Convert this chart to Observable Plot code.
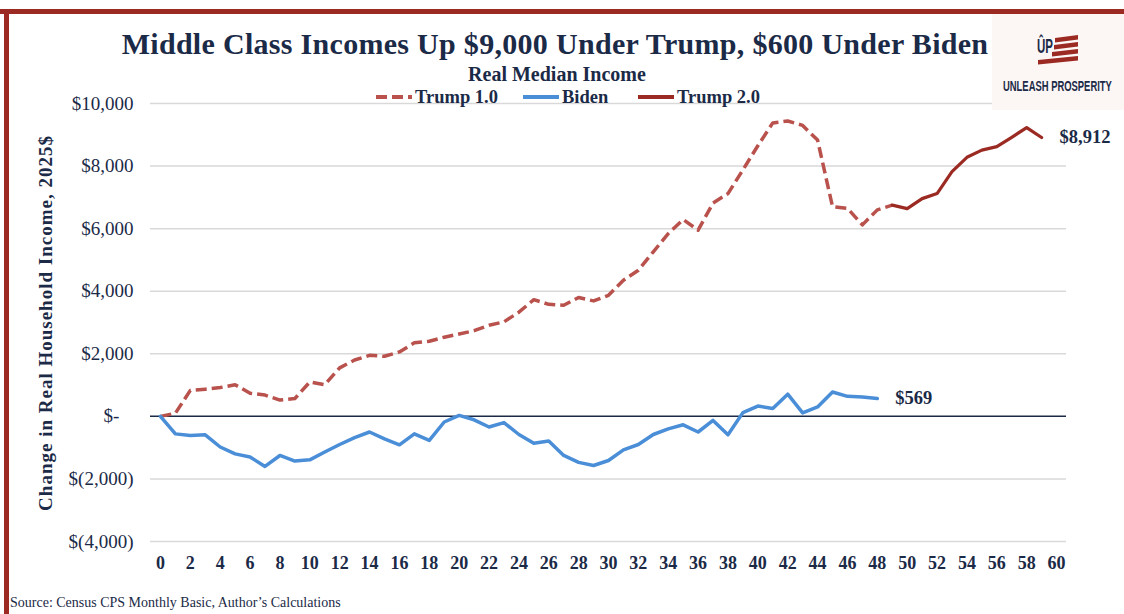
<!DOCTYPE html>
<html><head><meta charset="utf-8">
<script src="https://cdn.jsdelivr.net/npm/d3@7"></script>
<script src="https://cdn.jsdelivr.net/npm/@observablehq/plot@0.6"></script>
<style>
body{margin:0;background:#fff;}
#wrap{position:relative;width:1124px;height:614px;overflow:hidden;font-family:"Liberation Serif",serif;color:#1b2a47;background:#fff;}
#chart{position:absolute;left:0;top:0;}
.ov{position:absolute;white-space:nowrap;}
#barTop{position:absolute;left:0;top:9px;width:1124px;height:5px;background:#9b2a22;}
#barLeft{position:absolute;left:4px;top:9px;width:5px;height:605px;background:#9b2a22;}
#title{left:0;width:1110px;top:26px;text-align:center;font-size:30px;letter-spacing:0.3px;line-height:36px;font-weight:bold;}
#subtitle{left:0;width:1114px;top:63px;text-align:center;font-size:20px;line-height:22px;font-weight:bold;}
.leg{position:absolute;top:87px;height:20px;font-size:18.5px;line-height:20px;font-weight:bold;display:flex;align-items:center;}
.leg svg{margin-right:3px;}
#ylabel{left:46px;top:323px;transform:translate(-50%,-50%) rotate(-90deg);font-size:19px;letter-spacing:1px;font-weight:bold;line-height:20px;}
#source{left:10px;top:594px;font-size:14px;line-height:17px;}
#logo{position:absolute;left:992px;top:14px;width:132px;height:96px;background:#fcf6f5;}
</style></head><body>
<div id="wrap">
  <div id="chart"></div>
  <div id="barTop"></div><div id="barLeft"></div>
  <div id="logo">
    <svg width="132" height="96">
      <g id="upMark" transform="translate(45,39)"><text font-family="Liberation Sans Narrow, Liberation Sans, sans-serif" font-weight="bold" font-size="20" fill="#1b2a47">ÛP</text></g>
      <polygon points="63,24 86,21 86,25.5 63,28.5" fill="#9b2a22"/>
      <polygon points="62,31 86,28 86,32.5 62,35.5" fill="#9b2a22"/>
      <polygon points="60,38 86,35 86,39.5 60,42.5" fill="#9b2a22"/>
      <polygon points="46,46 86,42 86,46.5 46,50.5" fill="#9b2a22"/>
      <g id="upName" transform="translate(11,77)"><text font-family="Liberation Sans Narrow, Liberation Sans, sans-serif" font-weight="bold" font-size="15.5" fill="#1b2a47">UNLEASH PROSPERITY</text></g>
    </svg>
  </div>
  <div class="ov" id="title">Middle Class Incomes Up $9,000 Under Trump, $600 Under Biden</div>
  <div class="ov" id="subtitle">Real Median Income</div>
  <div id="legend"></div>
  <div class="ov" id="ylabel">Change in Real Household Income, 2025$</div>
  <div class="ov" id="source">Source: Census CPS Monthly Basic, Author’s Calculations</div>
</div>
<script>
// ---- data ----
const seriesNames = ["Trump 1.0", "Biden", "Trump 2.0"];
const seriesColors = ["#b9524c", "#4a8ed8", "#9b2a22"];

const trump1Start = 0;
const trump1Values = [0, 100, 830, 870, 920, 1010, 740, 680, 520, 570,
  1100, 1010, 1550, 1800, 1950, 1920, 2060, 2350, 2400, 2530,
  2630, 2740, 2910, 3020, 3330, 3730, 3580, 3550, 3800, 3690,
  3870, 4350, 4670, 5260, 5840, 6290, 5950, 6820, 7120, 7880,
  8650, 9380, 9440, 9300, 8830, 6700, 6650, 6120, 6600, 6750];

const bidenStart = 0;
const bidenValues = [0, -560, -610, -590, -980, -1200, -1300, -1600, -1250, -1430,
  -1390, -1140, -900, -680, -500, -720, -910, -560, -770, -180,
  30, -110, -340, -200, -580, -860, -790, -1250, -1470, -1570,
  -1410, -1070, -900, -580, -400, -270, -500, -130, -590, 120,
  330, 250, 710, 110, 300, 780, 640, 620, 569];

const trump2Start = 49;
const trump2Values = [6750, 6640, 6960, 7120, 7820, 8280, 8510, 8620, 8920, 9230, 8912];

const xTicks = [0,2,4,6,8,10,12,14,16,18,20,22,24,26,28,30,32,34,36,38,40,42,44,46,48,50,52,54,56,58,60];
const yTicks = [-4000,-2000,0,2000,4000,6000,8000,10000];

// ---- build tables ----
const toRows = (vals, start, series) => vals.map((v, i) => ({month: start + i, value: v, series}));
const trump1 = toRows(trump1Values, trump1Start, seriesNames[0]);
const biden = toRows(bidenValues, bidenStart, seriesNames[1]);
const trump2 = toRows(trump2Values, trump2Start, seriesNames[2]);
const endLabels = [biden[biden.length - 1], trump2[trump2.length - 1]];

const money = v => {
  const s = d3.format(",")(Math.abs(v));
  return v < 0 ? `$(${s})` : `$${s}`;
};
const axisMoney = v => v === 0 ? "$-\u00a0\u00a0\u00a0" : money(v);

const navy = "#1b2a47";

const chart = Plot.plot({
  width: 1124,
  height: 614,
  marginLeft: 150,
  marginRight: 58,
  marginTop: 103,
  marginBottom: 73,
  style: {background: "transparent", fontFamily: "Liberation Serif, serif", color: navy, overflow: "visible"},
  x: {domain: [-2/3, 60 + 2/3]},
  y: {domain: [-4000, 10000]},
  marks: [
    Plot.ruleY(yTicks.filter(d => d !== 0), {stroke: "#d9d9d9", strokeWidth: 1.5}),
    Plot.ruleY([0], {stroke: navy, strokeWidth: 1.5}),
    Plot.axisY({ticks: yTicks, tickSize: 0, tickPadding: 17, tickFormat: axisMoney, fontSize: 19, label: null, fill: navy}),
    Plot.axisX({ticks: xTicks, tickSize: 0, tickPadding: 15, tickFormat: d => String(d), fontSize: 18, fontWeight: "bold", label: null, fill: navy}),
    Plot.line(trump1, {x: "month", y: "value", stroke: seriesColors[0], strokeWidth: 3.5, strokeDasharray: "11,5", strokeLinecap: "butt"}),
    Plot.line(biden, {x: "month", y: "value", stroke: seriesColors[1], strokeWidth: 3.5}),
    Plot.line(trump2, {x: "month", y: "value", stroke: seriesColors[2], strokeWidth: 3.2}),
    Plot.text(endLabels, {x: "month", y: "value", text: d => money(d.value), dx: 18, textAnchor: "start", fontSize: 18.5, fontWeight: "bold", fill: navy})
  ]
});
document.getElementById("chart").append(chart);

// ---- legend ----
const legendPos = [376, 523, 638];
const legend = document.getElementById("legend");
seriesNames.forEach((name, i) => {
  const item = document.createElement("div");
  item.className = "leg";
  item.style.left = legendPos[i] + "px";
  const dash = i === 0 ? 'stroke-dasharray="11,5"' : "";
  item.innerHTML = `<svg width="36" height="8"><line x1="0" y1="4" x2="36" y2="4" stroke="${seriesColors[i]}" stroke-width="4" ${dash}/></svg><span>${name}</span>`;
  legend.append(item);
});

// ---- squeeze logo texts to their target widths (condensed look) ----
[["upMark", 45, 39, 16], ["upName", 11, 77, 109]].forEach(([id, x, y, w]) => {
  const g = document.getElementById(id);
  const t = g.querySelector("text");
  const len = t.getComputedTextLength() || w;
  g.setAttribute("transform", `translate(${x},${y}) scale(${Math.min(1, w / len)},1)`);
});
</script>
</body></html>
